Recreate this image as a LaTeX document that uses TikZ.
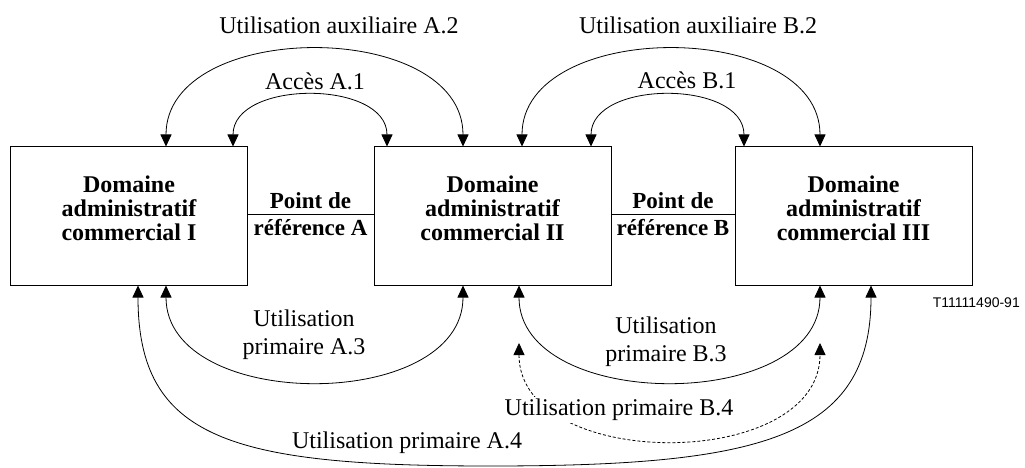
\documentclass[tikz,border=0pt]{standalone}
\usepackage{fontspec}
\setmainfont{Liberation Serif}
\newfontfamily\tagfont{Liberation Sans}
\usetikzlibrary{arrows.meta}
\begin{document}
\begin{tikzpicture}[x=1pt,y=-1pt,
  domainbox/.style={draw,line width=1pt,minimum width=237pt,minimum height=138pt,inner sep=0pt},
  boxtext/.style={align=center,font=\fontsize{24}{24}\bfseries\selectfont,inner sep=0pt},
  reflab/.style={font=\fontsize{23}{23}\bfseries\selectfont,inner sep=0pt,anchor=base},
  lab/.style={align=center,font=\fontsize{24}{28}\selectfont,inner sep=0pt},
  dbl/.style={line width=0.8pt,{Triangle[length=12pt,width=11pt]}-{Triangle[length=12pt,width=11pt]}},
  dotted4/.style={dash pattern=on 3pt off 2pt}]
\useasboundingbox (0,0) rectangle (1025,468);

% boxes
\node[domainbox] (b1) at (129,216) {};
\node[domainbox] (b2) at (492.5,216) {};
\node[domainbox] (b3) at (853.5,216) {};
\node[boxtext] (t1) at (129,208) {Domaine\\administratif\\commercial I};
\node[boxtext] (t2) at (492.5,208) {Domaine\\administratif\\commercial II};
\node[boxtext] (t3) at (853.5,208) {Domaine\\administratif\\commercial III};

% reference points
\draw[line width=1pt] ([yshift=2pt]b1.east) -- ([yshift=2pt]b2.west);
\draw[line width=1pt] ([yshift=2pt]b2.east) -- ([yshift=2pt]b3.west);
\node[reflab] (pa1) at (310.5,208) {Point de};
\node[reflab] (pa2) at (310.5,235) {référence A};
\node[reflab] (pb1) at (673,208) {Point de};
\node[reflab] (pb2) at (673,235) {référence B};

% top arcs
\draw[dbl] ([xshift=37pt]b1.north) .. controls +(0,-128) and +(0,-128) .. ([xshift=-29.5pt]b2.north);
\draw[dbl] ([xshift=104pt]b1.north) .. controls +(0,-67) and +(0,-67) .. ([xshift=-105.5pt]b2.north);
\draw[dbl] ([xshift=29.5pt]b2.north) .. controls +(0,-128) and +(0,-128) .. ([xshift=-33.5pt]b3.north);
\draw[dbl] ([xshift=98.5pt]b2.north) .. controls +(0,-67) and +(0,-67) .. ([xshift=-109.5pt]b3.north);

\node[lab] (la2) at (339,25) {Utilisation auxiliaire A.2};
\node[lab] (la1) at (315,81) {Accès A.1};
\node[lab] (lb2) at (698,25) {Utilisation auxiliaire B.2};
\node[lab] (lb1) at (687,80) {Accès B.1};

% bottom arcs
\draw[dbl] ([xshift=37pt]b1.south) .. controls +(0,127) and +(0,127) .. ([xshift=-29.5pt]b2.south);
\draw[dbl] ([xshift=26.5pt]b2.south) .. controls +(0,127) and +(0,127) .. ([xshift=-33.5pt]b3.south);
\coordinate (a4m) at (490,466);
\draw[dbl] ([xshift=9pt]b1.south) .. controls +(0,153) and (230,466) .. (a4m)
  .. controls (760,466) and +(0,153) .. ([xshift=17.5pt]b3.south);

\coordinate (b4s) at (519,343);
\coordinate (b4e) at (820,343);
\draw[dbl,dotted4] (b4s) .. controls +(0,129) and +(0,129) .. (b4e);

\node[lab] (la3) at (304,335) {Utilisation\\primaire A.3};
\node[lab] (lb3) at (666,342) {Utilisation\\primaire B.3};
\node[lab,fill=white,inner sep=2pt] (lb4) at (619,410) {Utilisation primaire B.4};
\node[lab] (la4) at (407,443) {Utilisation primaire A.4};

\node[font=\tagfont\fontsize{14}{14}\selectfont,inner sep=0pt,anchor=east] (tag) at (1020,303) {T11111490-91};
\end{tikzpicture}
\end{document}
